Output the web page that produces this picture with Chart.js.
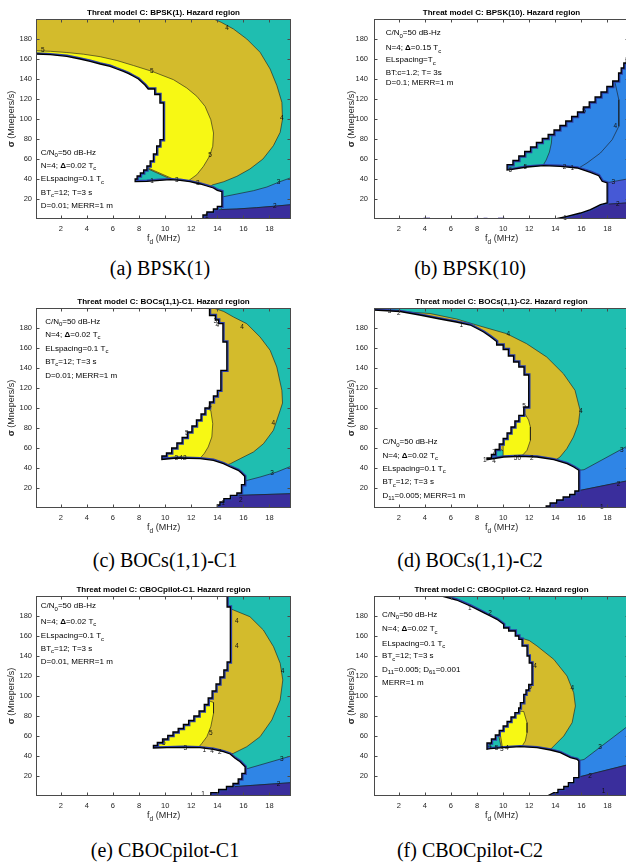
<!DOCTYPE html>
<html>
<head>
<meta charset="utf-8">
<script src="https://cdn.jsdelivr.net/npm/chart.js@4.4.1/dist/chart.umd.min.js"></script>
<style>
  html, body { margin: 0; padding: 0; background: #fff; }
  #page { position: relative; width: 626px; height: 866px; overflow: hidden; }
  #page canvas { position: absolute; }
  .cap { position: absolute; transform: translate(-50%, -50%); white-space: nowrap;
         font-family: "Liberation Serif", "Times New Roman", serif; font-size: 20px; color: #000; }
</style>
</head>
<body>
<div id="page">
  <canvas id="pa" width="313" height="250" style="left:0px;top:0px"></canvas>
  <canvas id="pb" width="313" height="250" style="left:338px;top:0px"></canvas>
  <canvas id="pc" width="313" height="250" style="left:0px;top:289px"></canvas>
  <canvas id="pd" width="313" height="250" style="left:338px;top:289px"></canvas>
  <canvas id="pe" width="313" height="250" style="left:0px;top:577px"></canvas>
  <canvas id="pf" width="313" height="250" style="left:338px;top:577px"></canvas>
  <div class="cap" style="left:160px;top:268px">(a) BPSK(1)</div>
  <div class="cap" style="left:470px;top:268px">(b) BPSK(10)</div>
  <div class="cap" style="left:165px;top:560px">(c) BOCs(1,1)-C1</div>
  <div class="cap" style="left:470px;top:560px">(d) BOCs(1,1)-C2</div>
  <div class="cap" style="left:165px;top:850px">(e) CBOCpilot-C1</div>
  <div class="cap" style="left:470px;top:850px">(f) CBOCpilot-C2</div>
</div>
<script>
// axes shared by every panel: fd in MHz, sigma in Mnepers/s
const xTicks = [2, 4, 6, 8, 10, 12, 14, 16, 18];
const yTicks = [20, 40, 60, 80, 100, 120, 140, 160, 180];
const xRange = [0.1, 19.65];
const yRange = [0, 200];

// ---- (a) BPSK(1) ----
// boundary of the hazard-free (white) region, left axis -> bottom axis
const aEdge = [
  [0.1,165],[1.2,164.3],[2.46,162.7],[3.48,160],[4.25,157.7],[5.02,155],[5.78,152.7],[6.3,150],[6.8,147.7],
  [7.2,145.3],[7.57,142.7],[7.95,140],[8.2,137],[8.45,134],[8.7,130],[9.2,130],[9.2,124.5],[9.6,124.5],
  [9.6,116],[9.87,116],[9.87,79.3],[9.6,79.3],[9.6,73],[9.35,73],[9.35,65],[9.1,65],[9.1,58],[8.85,58],
  [8.85,53],[8.6,53],[8.6,49],[8.35,49],[8.35,46],[8.1,46],[8.1,43],[7.85,43],[7.85,40],[7.7,40],[7.7,37.3],
  [8.6,37.7],[9.6,38.7],[10.4,39.3],[11.15,38.7],[11.9,37.3],[12.68,35],[13.2,33],[13.7,31],[14.0,28.7],
  [14.35,27.3],[14.35,12.7],[14.0,12.7],[14.0,10],[13.7,10],[13.7,7],[13.2,7],[13.2,4],[12.9,4],[12.9,0]
];
const aOlive = [
  [0.1,200],[13.71,200],[14.3,196.7],[15.24,190],[16.26,180],[17.28,166.7],[18.05,150],[18.57,133.3],
  [18.95,116.7],[19.0,100],[18.82,86.7],[18.3,73.3],[17.5,60],[16.5,50],[15.5,42.7],[14.5,37.3],[13.6,34],
  [13,25],[0.1,100]
];
const aYellow = [
  [0.1,168.3],[1.2,167.7],[2.46,166.5],[3.74,164.8],[5.02,162.3],[6.3,158.5],[7.57,153.5],[8.98,147.7],
  [10.64,139.3],[11.66,131],[12.43,122.7],[13.06,112.7],[13.5,99.3],[13.71,86],[13.65,72.7],[13.4,62.7],
  [12.94,52.7],[12.43,44.3],[11.9,39.3],[11.5,35],[0.1,100]
];
const aBlue = [
  [14.35,22],[15.5,25],[16.77,28.3],[17.8,32],[18.8,37.3],[19.65,41.3],[19.65,14.3],[18.3,12.7],[17,11.3],
  [15.5,10],[14.35,9.5],[14.1,15]
];
const aDark = [[12.5,0],[13.5,9],[14.35,9.5],[15.5,10],[17,11.3],[18.3,12.7],[19.65,14.3],[19.65,0]];
const aLabels = [
  [0.62,168.5,'5'],[14.75,191,'4'],[8.98,147.7,'5'],[18.95,101,'4'],[13.45,64,'5'],[9.0,38,'1'],
  [10.9,38.8,'3'],[12.5,35.5,'3'],[18.7,36.3,'3'],[18.4,12.5,'2'],[13.2,2.5,'1']
];

// ---- (b) BPSK(10) ----
const bUpper = [
  [10.3,54.3],[10.75,54.3],[10.75,58.5],[11.2,58.5],[11.2,63],[11.65,63],[11.65,67.5],[12.1,67.5],[12.1,72],
  [12.55,72],[12.55,76.5],[13.0,76.5],[13.0,80.5],[13.45,80.5],[13.45,84.5],[13.9,84.5],[13.9,89],[14.35,89],
  [14.35,93.5],[14.8,93.5],[14.8,98],[15.25,98],[15.25,102.5],[15.7,102.5],[15.7,107],[16.15,107],[16.15,112],
  [16.6,112],[16.6,117],[17.05,117],[17.05,122],[17.5,122],[17.5,127],[17.95,127],[17.95,132.5],[18.4,132.5],
  [18.4,138],[18.85,138],[18.85,146],[19.05,146],[19.05,151],[19.25,151],[19.25,156],[19.45,156],[19.45,161],
  [19.65,161]
];
const bLower = [
  [10.3,54.3],[10.3,49],[10.56,49.3],[11.84,52],[13.11,53.3],[14.39,52.7],[15.67,51],[16.69,46.7],[17.33,43.3],
  [17.59,37.7],[17.97,36],[17.97,16],[17.46,14.3],[17.2,12.7],[16.69,9.3],[15.93,6],[14.9,2.7],[14.0,0]
];
const bBody = [[10,45],[10,62],[19.65,175],[19.65,0],[14,0]];
const bTeal = [[10,45],[10,62],[13.8,92],[13.75,84.5],[13.7,76],[13.55,67],[13.3,59],[13.05,53.4],[12,45]];
const bPurple = [[17.97,36.3],[18.8,38.3],[19.65,40.3],[19.65,16.2],[18.5,15.2],[17.46,14.3],[17.5,25]];
const bDark = [[13.5,0],[15.5,8],[17.2,14],[17.46,14.3],[18.5,15.2],[19.65,16.2],[19.65,0]];
const bLevel4 = [[18.5,141],[18.87,119.3],[18.87,92.7],[18.36,79.3],[17.46,66],[16.43,56],[15.8,51]];
// small specks sitting on the bottom axis
const bSpecks = [[[3.9,0.6],[4.4,0.6]], [[7.8,0.5],[8.1,0.5]], [[8.5,0.5],[8.8,0.5]], [[9.6,0.6],[10.1,0.6]]];
const bLabels = [
  [10.55,48.5,'6'],[11.7,51.3,'5'],[14.7,51.8,'2'],[15.3,50.8,'1'],[18.6,92.7,'4'],[18.45,37,'3'],
  [18.8,14.8,'2'],[14.75,1,'1'],[16.2,107.7,'5']
];

// ---- (c) BOCs(1,1)-C1 ----
const cEdge = [
  [13.4,200],[13.4,192.5],[13.85,192.5],[13.85,188],[14.1,188],[14.1,184.3],[14.43,184.3],[14.43,166],
  [14.73,166],[14.73,137.7],[14.27,137.7],[14.27,117.7],[14.0,117.7],[14.0,112],[13.7,112],[13.7,106],
  [13.4,106],[13.4,100],[13.05,100],[13.05,94],[12.75,94],[12.75,88],[12.4,88],[12.4,82],[12.05,82],
  [12.05,76],[11.7,76],[11.7,70.5],[11.3,70.5],[11.3,65],[10.9,65],[10.9,60],[10.5,60],[10.5,55],[10.1,55],
  [10.1,52],[9.75,52],[9.75,48.5],[10.9,50],[12.68,49.3],[13.7,47.7],[14.47,44.3],[15.0,41],[15.3,39.3],
  [15.6,37.7],[15.85,35],[16.1,31.7],[16.1,23.3],[15.85,23.3],[15.85,15],[15.5,15],[15.5,12.7],[15.0,12.7],
  [15.0,9.3],[14.5,9.3],[14.5,6],[14.2,6],[14.2,3],[14.0,3],[14.0,0]
];
const cOlive = [
  [13.2,200],[13.7,200],[14.5,196.5],[15.24,191],[16.26,184.3],[17.28,171],[18.05,157.7],[18.56,141],
  [18.95,117.7],[19.0,105],[18.82,97.7],[18.3,77.7],[17.54,64.3],[16.77,56],[15.75,49.3],[15.0,44.3],
  [14.5,42],[10,40],[10,150]
];
const cYellow = [
  [13.0,101],[13.5,97.5],[13.65,84.3],[13.58,71],[13.3,61],[12.99,54.3],[12.68,49.8],[12,45],[9.5,45],[9.5,101]
];
const cBlue = [[16.1,27],[17.28,31],[18.56,36],[19.65,41.7],[19.65,14.3],[15.75,12.7],[15.5,16]];
const cDark = [[13.5,0],[14.5,10],[15.75,12.7],[19.65,14.3],[19.65,0]];
const cLabels = [
  [13.85,186.5,'3'],[14.0,182.5,'4'],[15.9,181,'4'],[18.3,84.3,'4'],[11.66,74.3,'5'],[13.45,102,'4'],
  [10.85,49.6,'3'],[11.2,49.6,'4'],[11.5,49.6,'2'],[18.2,35,'3'],[15.8,7.7,'2'],[14.45,5,'1']
];

// ---- (d) BOCs(1,1)-C2 ----
const dEdge = [
  [0.1,198],[2.1,196.5],[3.6,193],[5.15,189],[6.4,186],[7.48,183],[8.0,179.5],[8.5,176],[9.0,171.5],
  [9.5,166.5],[9.5,163],[10.0,163],[10.0,158.5],[10.4,158.5],[10.4,152],[10.8,152],[10.8,146],[11.2,146],
  [11.2,141],[11.6,141],[11.6,133],[11.96,133],[11.96,101],[11.58,101],[11.58,92.7],[11.2,92.7],[11.2,87],
  [10.9,87],[10.9,81],[10.6,81],[10.6,75],[10.3,75],[10.3,69.5],[10.0,69.5],[10.0,64],[9.7,64],[9.7,58.5],
  [9.4,58.5],[9.4,53.5],[9.1,53.5],[9.1,50],[8.76,50],[8.76,48.3],[10.04,51],[11.32,51.7],[12.6,51],
  [13.88,48.3],[14.9,44.3],[15.41,41],[15.8,37.7],[15.8,17],[15.5,17],[15.5,13.5],[15.1,13.5],[15.1,11],
  [14.6,11],[14.6,8],[14.1,8],[14.1,5],[13.6,5],[13.6,2],[13.3,2],[13.3,0]
];
const dOlive = [
  [2.5,196.2],[4.4,194.5],[6.43,189],[8.22,182],[10.27,174.3],[11.8,164.3],[13.34,151],[14.62,134.3],
  [15.51,117.7],[15.9,97.7],[15.77,84.3],[15.39,71],[14.88,59.3],[14.36,51],[13.98,47.7],[12,40],[5,100],[2.5,180]
];
const dYellow = [
  [11.45,94.5],[11.7,93.5],[11.95,88],[12.09,81],[12.09,67.7],[11.83,57.7],[11.5,53],[11.2,51.8],[10,45],[10,94.5]
];
const dBlue = [[15.8,37.7],[16.2,38.3],[19.65,62.8],[19.65,27.5],[15.85,17.5],[15.5,25]];
const dDark = [[13.0,0],[15.0,12.5],[15.85,17.5],[19.65,27.5],[19.65,0]];
const dLabels = [
  [1.3,197,'3'],[2.0,195,'2'],[6.8,183,'1'],[10.4,173.7,'4'],[15.95,96.5,'4'],[11.6,102,'5'],[9.3,56,'7'],
  [8.6,47.5,'1'],[9.3,46.8,'4'],[11.1,49.8,'50'],[12.2,49.5,'2'],[19.1,58,'3'],[18.85,23.7,'2'],[17.56,1,'1']
];

// ---- (e) CBOCpilot-C1 ----
const eEdge = [
  [14.75,200],[14.75,189],[15.0,189],[15.0,134],[14.75,134],[14.75,126],[14.5,126],[14.5,119],[14.2,119],
  [14.2,112],[13.9,112],[13.9,105],[13.6,105],[13.6,98],[13.3,98],[13.3,91.5],[13.0,91.5],[13.0,85],[12.6,85],
  [12.6,80],[12.2,80],[12.2,75.5],[11.8,75.5],[11.8,71.5],[11.4,71.5],[11.4,67.5],[11.0,67.5],[11.0,64],
  [10.6,64],[10.6,60.5],[10.2,60.5],[10.2,57],[9.8,57],[9.8,53.5],[9.4,53.5],[9.4,50.5],[9.1,50.5],[9.1,48],
  [10.13,48.3],[11.4,48.7],[12.68,48.3],[13.7,46.7],[14.47,44.3],[14.98,42],[15.36,37.7],[15.75,34.3],
  [16.13,29.3],[16.13,22.7],[15.88,22.7],[15.88,17],[15.6,17],[15.6,12.5],[15.2,12.5],[15.2,9.5],[14.7,9.5],
  [14.7,6.5],[14.1,6.5],[14.1,3.3],[13.5,3.3],[13.5,0]
];
const eOlive = [
  [14.5,188],[15.0,187.5],[15.24,186],[16.5,179.3],[17.53,166],[18.31,149.3],[18.82,132.7],[19.02,116],
  [18.82,96],[18.18,76],[17.28,59.3],[16.26,49.3],[15.24,42.7],[14.98,42],[10,40],[10,100]
];
const eYellow = [
  [13.2,96],[13.71,93.5],[13.71,82.7],[13.5,69.3],[13.2,59.3],[12.82,52.7],[12.56,48.7],[11,44],[9.5,44],[9.5,96]
];
const eBlue = [[16.13,26.7],[19.65,40],[19.65,13.3],[15.24,9.3],[15.4,15],[15.8,20]];
const eDark = [[13.0,0],[14.5,8],[15.24,9.3],[19.65,13.3],[19.65,0]];
const eLabels = [
  [15.5,174.3,'4'],[15.5,150,'4'],[19.0,124.3,'4'],[13.5,62.7,'5'],[9.9,52.5,'5'],[11.55,47.5,'3'],
  [13.0,46,'1'],[13.6,45,'4'],[14.2,44,'2'],[18.95,36.7,'3'],[18.7,12,'2'],[12.9,1.3,'1']
];

// ---- (f) CBOCpilot-C2 ----
const fEdge = [
  [5.3,200],[6.43,196],[7.48,190],[8.5,183.3],[9.01,180],[9.52,176.7],[10.04,171.7],[10.04,168],[10.42,168],
  [10.42,165],[10.93,165],[10.93,160],[11.2,160],[11.2,156.7],[11.45,156.7],[11.45,150],[11.83,150],
  [11.83,140],[12.0,140],[12.0,133],[12.21,133],[12.21,111.7],[11.96,111.7],[11.96,106],[11.75,106],
  [11.75,101.7],[11.58,101.7],[11.58,93.3],[11.32,93.3],[11.32,88],[11.19,88],[11.19,83.3],[10.9,83.3],
  [10.9,79],[10.6,79],[10.6,74.5],[10.3,74.5],[10.3,70],[10.0,70],[10.0,65.5],[9.7,65.5],[9.7,61],[9.4,61],
  [9.4,57],[9.1,57],[9.1,53],[8.76,53],[8.76,46.7],[9.01,47.3],[10.04,48.3],[11.32,49.3],[12.6,48.3],
  [13.62,46],[14.39,43.3],[15.16,38.3],[15.67,36.7],[15.8,35],[15.8,18.3],[15.41,18.3],[15.41,13.3],
  [15.0,13.3],[15.0,9.5],[14.65,9.5],[14.65,6.7],[14.2,6.7],[14.2,3.3],[13.88,3.3],[13.6,1.5],[13.37,0]
];
const fOlive = [
  [11.0,159.5],[12.0,155.5],[12.6,150],[13.88,136.7],[14.9,120],[15.41,103.3],[15.54,90],[15.29,73.3],
  [14.65,60],[13.62,46.5],[10,40],[9,100],[10.5,150]
];
const fYellow = [[11.0,85],[11.58,84.5],[11.83,73.3],[11.83,63.3],[11.7,55],[11.45,49.8],[10,44],[9.5,85]];
const fBlue = [[15.8,35.5],[16.2,36.5],[19.65,70.8],[19.65,31.5],[15.9,19.3],[15.5,25]];
const fDark = [[13.1,0],[15.2,15],[15.9,19.3],[19.65,31.5],[19.65,0]];
const fLabels = [
  [7.45,188,'1'],[9.0,182.5,'2'],[12.44,129.3,'4'],[12.06,108.7,'5'],[15.3,107.7,'4'],[17.44,49,'3'],
  [16.67,19.8,'2'],[17.7,4.3,'1'],[9.0,50,'4'],[9.5,47.3,'5'],[9.9,47,'3'],[10.3,47.3,'4']
];

const TEAL = '#1fbeb0', OLIVE = '#d3bb2c', YELLOW = '#f7f814', BLUE = '#2f85e6',
      DARK = '#3a2e9c', PURPLE = '#4659d6', BAND = '#2c3fa6', LINE = '#1a1a1a', INK = '#262626';
const FONT = '"Liberation Sans", Arial, Helvetica, sans-serif';
const fullRect = [[xRange[0], yRange[0]], [xRange[0], yRange[1]], [xRange[1], yRange[1]], [xRange[1], yRange[0]]];

const notesStd = ['C/N_{0}=50 dB-Hz', 'N=4; *Δ*=0.02 T_{c}', 'ELspacing=0.1 T_{c}', 'BT_{c}=12; T=3 s'];

const panels = [
  { id: 'pa', title: 'Threat model C: BPSK(1). Hazard region',
    notes: notesStd.concat(['D=0.01; MERR=1 m']), noteX: 0.47, noteY: [66.7, 53.3, 40, 26.7, 13.3],
    areas: [[fullRect, TEAL, false], [aBlue, BLUE, true], [aDark, DARK, true], [aOlive, OLIVE, true], [aYellow, YELLOW, true]],
    strokes: [], specks: [], edge: aEdge, pre: [[0.1, 0]], post: [], labels: aLabels, yPad: 4, yTitleX: 12 },
  { id: 'pb', title: 'Threat model C: BPSK(10). Hazard region',
    notes: ['C/N_{0}=50 dB-Hz', 'N=4; *Δ*=0.15 T_{c}', 'ELspacing=T_{c}', 'BT:c=1.2; T= 3s', 'D=0.1; MERR=1 m'],
    noteX: 1.0, noteY: [186, 171, 159, 146, 136],
    areas: [[bBody, BLUE, false], [bPurple, PURPLE, true], [bDark, DARK, true], [bTeal, TEAL, true]],
    strokes: [bLevel4], specks: bSpecks, edge: bLower.slice().reverse().concat(bUpper.slice(1)),
    pre: [[0.1, 0]], post: [[19.65, 200], [0.1, 200]], labels: bLabels, yPad: 6, yTitleX: 14 },
  { id: 'pc', title: 'Threat model C: BOCs(1,1)-C1. Hazard region',
    notes: notesStd.concat(['D=0.01; MERR=1 m']), noteX: 0.8, noteY: [186.7, 173.7, 159.3, 146.7, 132.7],
    areas: [[fullRect, TEAL, false], [cBlue, BLUE, true], [cDark, DARK, true], [cOlive, OLIVE, true], [cYellow, YELLOW, true]],
    strokes: [], specks: [], edge: cEdge, pre: [[0.1, 0], [0.1, 200]], post: [], labels: cLabels, yPad: 4, yTitleX: 12 },
  { id: 'pd', title: 'Threat model C: BOCs(1,1)-C2. Hazard region',
    notes: notesStd.concat(['D_{11}=0.005; MERR=1 m']), noteX: 0.75, noteY: [66, 52.7, 39.3, 26, 12.7],
    areas: [[fullRect, TEAL, false], [dBlue, BLUE, true], [dDark, DARK, true], [dOlive, OLIVE, true], [dYellow, YELLOW, true]],
    strokes: [], specks: [], edge: dEdge, pre: [[0.1, 0]], post: [], labels: dLabels, yPad: 6, yTitleX: 14 },
  { id: 'pe', title: 'Threat model C: CBOCpilot-C1. Hazard region',
    notes: notesStd.concat(['D=0.01, MERR=1 m']), noteX: 0.47, noteY: [190, 174.3, 160, 147.7, 134.3],
    areas: [[fullRect, TEAL, false], [eBlue, BLUE, true], [eDark, DARK, true], [eOlive, OLIVE, true], [eYellow, YELLOW, true]],
    strokes: [], specks: [], edge: eEdge, pre: [[0.1, 0], [0.1, 200]], post: [], labels: eLabels, yPad: 4, yTitleX: 12 },
  { id: 'pf', title: 'Threat model C: CBOCpilot-C2. Hazard region',
    notes: notesStd.concat(['D_{11}=0.005; D_{61}=0.001', 'MERR=1 m']), noteX: 0.72,
    noteY: [181.7, 167, 152.7, 140, 126.7, 113.3],
    areas: [[fullRect, TEAL, false], [fBlue, BLUE, true], [fDark, DARK, true], [fOlive, OLIVE, true], [fYellow, YELLOW, true]],
    strokes: [], specks: [], edge: fEdge, pre: [[0.1, 0], [0.1, 200]], post: [], labels: fLabels, yPad: 6, yTitleX: 14 }
];

function xy(arr) {
  return arr.map(p => ({ x: p[0], y: p[1] }));
}

function areaSet(points, color, outlined) {
  return {
    data: xy(points), showLine: true, fill: 'shape', backgroundColor: color,
    borderColor: outlined ? LINE : 'rgba(0,0,0,0)', borderWidth: outlined ? 0.6 : 1,
    pointRadius: 0, pointHitRadius: 0, tension: 0, clip: 0
  };
}

function strokeSet(points, color, width) {
  return {
    data: xy(points), showLine: true, fill: false, borderColor: color, borderWidth: width,
    borderJoinStyle: 'miter', pointRadius: 0, pointHitRadius: 0, tension: 0, clip: 0
  };
}

// text with _{sub} and *bold* runs
function richParts(s) {
  const out = [];
  const re = /_\{([^}]*)\}|\*([^*]*)\*/g;
  let last = 0, m;
  while ((m = re.exec(s))) {
    if (m.index > last) out.push({ t: s.slice(last, m.index) });
    if (m[1] !== undefined) out.push({ t: m[1], sub: true });
    else out.push({ t: m[2], bold: true });
    last = re.lastIndex;
  }
  if (last < s.length) out.push({ t: s.slice(last) });
  return out;
}

function rich(ctx, s, x, y, size, align) {
  const parts = richParts(s);
  const fontOf = p => (p.bold ? 'bold ' : '') + (p.sub ? size * 0.75 : size) + 'px ' + FONT;
  let w = 0;
  parts.forEach(p => { ctx.font = fontOf(p); p.w = ctx.measureText(p.t).width; w += p.w; });
  let cx = align === 'center' ? x - w / 2 : x;
  ctx.textAlign = 'left';
  ctx.textBaseline = 'middle';
  parts.forEach(p => {
    ctx.font = fontOf(p);
    ctx.fillText(p.t, cx, p.sub ? y + size * 0.38 : y);
    cx += p.w;
  });
}

function decor(p) {
  return {
    id: 'decor',
    afterDatasetsDraw(chart) {
      const ctx = chart.ctx, a = chart.chartArea;
      const xs = chart.scales.x, ys = chart.scales.y;
      ctx.save();
      // contour level labels
      ctx.fillStyle = '#111';
      ctx.font = '6.5px ' + FONT;
      ctx.textAlign = 'center';
      ctx.textBaseline = 'middle';
      p.labels.forEach(l => ctx.fillText(l[2], xs.getPixelForValue(l[0]), ys.getPixelForValue(l[1])));
      // parameter box
      ctx.fillStyle = '#000';
      p.notes.forEach((t, i) => rich(ctx, t, xs.getPixelForValue(p.noteX), ys.getPixelForValue(p.noteY[i]), 8, 'left'));
      // frame with inward ticks
      ctx.strokeStyle = '#4a4a4a';
      ctx.lineWidth = 1;
      const L = Math.round(a.left) + 0.5, R = Math.round(a.right) - 0.5;
      const T = Math.round(a.top) + 0.5, B = Math.round(a.bottom) - 0.5;
      ctx.strokeRect(L, T, R - L, B - T);
      ctx.beginPath();
      xTicks.forEach(v => {
        const px = Math.round(xs.getPixelForValue(v)) + 0.5;
        ctx.moveTo(px, B); ctx.lineTo(px, B - 3);
        ctx.moveTo(px, T); ctx.lineTo(px, T + 3);
      });
      yTicks.forEach(v => {
        const py = Math.round(ys.getPixelForValue(v)) + 0.5;
        ctx.moveTo(L, py); ctx.lineTo(L + 3, py);
        ctx.moveTo(R, py); ctx.lineTo(R - 3, py);
      });
      ctx.stroke();
      // titles
      ctx.fillStyle = '#000';
      ctx.font = 'bold 8px ' + FONT;
      ctx.textAlign = 'center';
      ctx.textBaseline = 'middle';
      ctx.fillText(p.title, (a.left + a.right) / 2, 13);
      ctx.fillStyle = INK;
      rich(ctx, 'f_{d} (MHz)', (a.left + a.right) / 2, 239, 9, 'center');
      ctx.translate(p.yTitleX, (a.top + a.bottom) / 2);
      ctx.rotate(-Math.PI / 2);
      rich(ctx, '*σ* (Mnepers/s)', 0, 0, 9, 'center');
      ctx.restore();
    }
  };
}

function buildDatasets(p) {
  const list = [];
  p.areas.forEach(a => list.push(areaSet(a[0], a[1], a[2])));
  p.strokes.forEach(s => list.push(strokeSet(s, LINE, 0.6)));
  list.push(strokeSet(p.edge, BAND, 3.6));
  list.push(areaSet(p.pre.concat(p.edge, p.post), '#ffffff', false));
  list.push(strokeSet(p.edge, '#000000', 1.3));
  p.specks.forEach(s => list.push(strokeSet(s, DARK, 1.5)));
  // earlier entries are painted first
  list.forEach((d, i) => { d.order = list.length - i; });
  return list;
}

panels.forEach(p => {
  new Chart(document.getElementById(p.id), {
    type: 'scatter',
    data: { datasets: buildDatasets(p) },
    options: {
      responsive: false,
      animation: false,
      devicePixelRatio: 1,
      events: [],
      layout: { padding: { top: 19, right: 22, left: 0, bottom: 0 } },
      plugins: { legend: { display: false }, tooltip: { enabled: false }, title: { display: false } },
      scales: {
        x: {
          type: 'linear', min: xRange[0], max: xRange[1],
          grid: { display: false, drawTicks: false }, border: { display: false },
          ticks: { color: INK, font: { family: FONT, size: 7.5 }, padding: 5, maxRotation: 0, autoSkip: false },
          afterBuildTicks: s => { s.ticks = xTicks.map(v => ({ value: v })); },
          afterFit: s => { s.height = 31; }
        },
        y: {
          type: 'linear', min: yRange[0], max: yRange[1],
          grid: { display: false, drawTicks: false }, border: { display: false },
          ticks: { color: INK, font: { family: FONT, size: 7.5 }, padding: p.yPad, autoSkip: false },
          afterBuildTicks: s => { s.ticks = yTicks.map(v => ({ value: v })); },
          afterFit: s => { s.width = 36; }
        }
      }
    },
    plugins: [decor(p)]
  });
});
</script>
</body>
</html>
